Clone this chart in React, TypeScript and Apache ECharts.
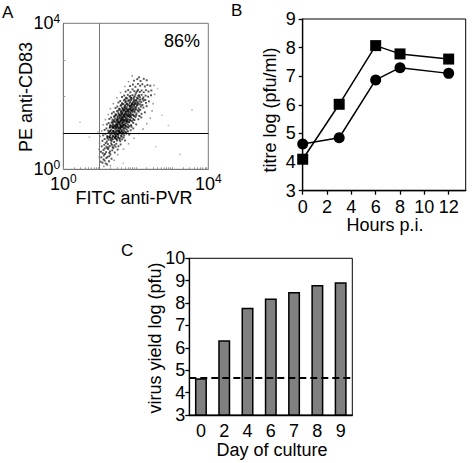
import React, { useEffect, useRef } from "react";
import * as echarts from "echarts";

// Panel A: flow cytometry events, in decades (log10 of fluorescence)
const cloudPoints: number[][] = [
  [1.08,0.18],[1.14,0.24],[1.21,0.13],[1.11,0.27],[1.26,0.22],[1.17,0.16],[1.03,0.21],
  [1.05,0.33],[1.12,0.38],[1.19,0.31],[1.27,0.36],[1.33,0.29],[1.15,0.42],[1.22,0.34],[1.09,0.44],[1.30,0.41],
  [1.04,0.48],[1.11,0.53],[1.18,0.47],[1.24,0.55],[1.29,0.49],[1.35,0.52],[1.42,0.46],[1.21,0.58],[1.14,0.57],[1.38,0.58],[1.27,0.45],[1.50,0.54],
  [1.06,0.63],[1.13,0.67],[1.19,0.62],[1.23,0.69],[1.28,0.64],[1.32,0.71],[1.36,0.61],[1.41,0.66],[1.46,0.70],[1.52,0.63],[1.58,0.68],[1.17,0.72],[1.34,0.67],[1.25,0.60],[1.44,0.62],
  [1.08,0.78],[1.14,0.83],[1.20,0.76],[1.25,0.81],[1.29,0.86],[1.33,0.77],[1.37,0.82],[1.40,0.75],[1.44,0.84],[1.48,0.79],[1.52,0.86],[1.57,0.77],[1.62,0.82],[1.70,0.79],[1.31,0.80],[1.42,0.88],[1.22,0.88],[1.55,0.81],
  [1.10,0.93],[1.16,0.97],[1.21,0.91],[1.26,0.99],[1.30,0.94],[1.34,1.00],[1.37,0.92],[1.41,0.97],[1.45,0.90],[1.48,0.99],[1.52,0.94],[1.55,1.01],[1.59,0.92],[1.63,0.97],[1.68,0.93],[1.74,0.98],[1.82,0.95],[1.39,1.02],[1.50,0.96],[1.28,0.90],[1.44,0.95],[1.61,1.02],
  [1.14,1.08],[1.19,1.12],[1.24,1.06],[1.28,1.14],[1.32,1.09],[1.35,1.16],[1.39,1.05],[1.42,1.11],[1.46,1.07],[1.49,1.15],[1.52,1.10],[1.55,1.04],[1.58,1.13],[1.61,1.08],[1.64,1.15],[1.67,1.06],[1.71,1.12],[1.75,1.09],[1.80,1.14],[1.86,1.07],[1.93,1.12],[1.37,1.13],[1.47,1.12],[1.57,1.10],[1.66,1.11],[1.44,1.16],[1.53,1.06],[1.30,1.05],
  [1.20,1.23],[1.25,1.27],[1.29,1.21],[1.33,1.28],[1.37,1.22],[1.40,1.30],[1.43,1.19],[1.47,1.26],[1.50,1.21],[1.53,1.29],[1.56,1.24],[1.59,1.18],[1.62,1.27],[1.65,1.22],[1.68,1.30],[1.71,1.20],[1.74,1.26],[1.78,1.23],[1.82,1.29],[1.87,1.21],[1.93,1.27],[2.01,1.23],[1.45,1.23],[1.55,1.27],[1.64,1.25],[1.70,1.24],[1.51,1.25],[1.36,1.26],[1.60,1.21],[1.76,1.30],
  [1.27,1.38],[1.32,1.42],[1.36,1.36],[1.40,1.44],[1.43,1.39],[1.47,1.34],[1.50,1.42],[1.53,1.37],[1.56,1.45],[1.59,1.35],[1.62,1.41],[1.65,1.38],[1.68,1.44],[1.71,1.36],[1.74,1.42],[1.77,1.39],[1.80,1.45],[1.84,1.35],[1.88,1.41],[1.93,1.38],[1.99,1.43],[2.07,1.37],[2.15,1.42],[1.58,1.40],[1.66,1.43],[1.72,1.40],[1.61,1.37],[1.49,1.38],[1.79,1.36],[1.55,1.41],[1.83,1.42],
  [1.34,1.53],[1.39,1.57],[1.44,1.51],[1.48,1.59],[1.52,1.54],[1.55,1.49],[1.59,1.57],[1.62,1.52],[1.65,1.60],[1.68,1.50],[1.71,1.56],[1.74,1.53],[1.77,1.59],[1.80,1.51],[1.83,1.57],[1.86,1.54],[1.89,1.60],[1.93,1.50],[1.97,1.56],[2.02,1.53],[2.08,1.58],[2.16,1.52],[2.25,1.56],[1.64,1.55],[1.73,1.58],[1.79,1.55],[1.85,1.51],[1.70,1.52],[1.91,1.57],[1.60,1.54],
  [1.44,1.68],[1.49,1.72],[1.54,1.66],[1.58,1.74],[1.62,1.69],[1.66,1.64],[1.70,1.72],[1.73,1.67],[1.77,1.75],[1.80,1.65],[1.83,1.71],[1.86,1.68],[1.89,1.74],[1.92,1.66],[1.95,1.72],[1.99,1.69],[2.03,1.75],[2.08,1.67],[2.14,1.72],[2.21,1.69],[2.30,1.73],[1.75,1.70],[1.84,1.73],[1.90,1.70],[1.97,1.65],[1.68,1.70],[2.01,1.71],
  [1.52,1.83],[1.57,1.87],[1.62,1.81],[1.67,1.89],[1.71,1.84],[1.75,1.79],[1.79,1.87],[1.83,1.82],[1.87,1.90],[1.90,1.80],[1.94,1.86],[1.98,1.83],[2.02,1.89],[2.06,1.81],[2.10,1.86],[2.15,1.84],[2.21,1.88],[2.28,1.82],[2.36,1.86],[1.85,1.85],[1.96,1.88],[2.04,1.84],[1.73,1.86],[1.92,1.83],
  [1.62,1.98],[1.68,2.02],[1.73,1.96],[1.78,2.04],[1.83,1.99],[1.87,1.95],[1.91,2.03],[1.95,1.97],[1.99,2.05],[2.03,1.96],[2.07,2.01],[2.11,1.98],[2.16,2.04],[2.21,1.97],[2.27,2.02],[2.34,1.99],[2.42,2.03],[1.97,2.00],[2.09,2.03],[1.85,2.01],
  [1.72,2.13],[1.79,2.17],[1.85,2.11],[1.91,2.19],[1.96,2.14],[2.01,2.10],[2.06,2.18],[2.11,2.12],[2.16,2.16],[2.22,2.11],[2.28,2.17],[2.35,2.13],[2.43,2.16],[2.04,2.14],
  [1.84,2.28],[1.92,2.32],[1.99,2.26],[2.06,2.34],[2.12,2.29],[2.18,2.33],[2.25,2.27],[2.32,2.31],[2.40,2.29],
  [1.95,2.43],[2.04,2.47],[2.13,2.42],[2.22,2.48],[2.30,2.44],[2.09,2.52]
];
// denser core of the population
const corePoints: number[][] = [
  [1.22,0.85],[1.27,0.89],[1.33,0.84],[1.38,0.90],[1.43,0.86],[1.47,0.83],[1.51,0.89],[1.56,0.85],[1.61,0.90],[1.66,0.87],[1.35,0.87],[1.45,0.91],
  [1.25,1.01],[1.29,1.04],[1.33,0.98],[1.37,1.05],[1.41,1.00],[1.45,1.03],[1.49,0.97],[1.53,1.04],[1.57,0.99],[1.61,1.05],[1.65,1.00],[1.69,1.03],[1.73,1.01],[1.78,1.04],[1.43,0.98],[1.55,1.02],[1.63,0.98],[1.50,1.05],
  [1.29,1.16],[1.33,1.19],[1.37,1.15],[1.41,1.20],[1.45,1.14],[1.49,1.18],[1.53,1.15],[1.57,1.20],[1.61,1.16],[1.65,1.19],[1.69,1.14],[1.73,1.18],[1.77,1.16],[1.82,1.19],[1.88,1.17],[1.48,1.21],[1.59,1.17],[1.67,1.21],[1.40,1.17],[1.55,1.13],
  [1.36,1.31],[1.40,1.34],[1.44,1.30],[1.48,1.35],[1.52,1.32],[1.56,1.29],[1.60,1.34],[1.64,1.30],[1.68,1.35],[1.72,1.31],[1.76,1.33],[1.80,1.30],[1.85,1.34],[1.90,1.32],[1.96,1.35],[1.58,1.32],[1.66,1.33],[1.74,1.35],[1.50,1.29],[1.62,1.36],
  [1.42,1.46],[1.46,1.49],[1.50,1.45],[1.54,1.50],[1.58,1.47],[1.62,1.44],[1.66,1.49],[1.70,1.45],[1.74,1.50],[1.78,1.46],[1.82,1.48],[1.86,1.44],[1.90,1.49],[1.95,1.46],[2.01,1.48],[2.10,1.46],[1.68,1.47],[1.76,1.48],[1.84,1.47],[1.60,1.50],
  [1.52,1.61],[1.56,1.64],[1.60,1.60],[1.64,1.65],[1.68,1.62],[1.72,1.59],[1.76,1.64],[1.80,1.60],[1.84,1.65],[1.88,1.61],[1.92,1.63],[1.96,1.60],[2.01,1.64],[2.06,1.61],[2.12,1.63],[1.78,1.62],[1.86,1.63],[1.70,1.66],
  [1.60,1.76],[1.65,1.79],[1.70,1.75],[1.75,1.80],[1.80,1.77],[1.85,1.74],[1.90,1.79],[1.95,1.76],[2.00,1.80],[2.05,1.77],[2.11,1.78],[2.18,1.76],[1.88,1.77],[1.97,1.79],
  [1.70,1.91],[1.76,1.94],[1.82,1.90],[1.88,1.95],[1.94,1.92],[2.00,1.89],[2.06,1.94],[2.12,1.91],[2.19,1.93],[2.26,1.90]
];
// fuzzy fringe of the population
const fringePoints: number[][] = [
  [0.98,0.55],[1.00,0.72],[1.02,0.90],[1.06,1.05],[1.10,1.22],[1.16,1.36],[1.24,1.50],[1.30,1.66],[1.38,1.80],[1.48,1.96],
  [1.58,2.10],[1.70,2.27],[1.80,2.40],[1.90,2.56],[2.50,2.30],[2.52,2.05],[2.48,1.80],[2.45,1.60],[2.40,1.40],[2.30,1.25],
  [2.20,1.10],[2.08,0.98],[1.95,0.85],[1.80,0.70],[1.66,0.55],[1.50,0.40],[1.40,0.25],[1.30,0.10],[1.12,0.08],[1.00,0.30]
];
const outlierPoints: number[][] = [
  [0.46,1.29],[3.55,1.62],[3.22,0.41],[2.72,1.48],[1.65,0.16],[0.95,1.02],[2.60,2.21],[0.72,0.88],[2.90,1.20],[0.98,0.35],[2.55,0.62]
];
const quadrantX = 1;
const quadrantY = 1;
const percentLabel = "86%";

// Panel B: titre time course
const hours = [0, 3, 6, 8, 12];
const titreSquares = [4.1, 6.02, 8.07, 7.78, 7.6];
const titreCircles = [4.63, 4.85, 6.87, 7.3, 7.1];
const hourTicks = [0, 2, 4, 6, 8, 10, 12];

// Panel C: virus yield by day of culture
const days = ["0", "2", "4", "6", "7", "8", "9"];
const yieldLog = [4.64, 6.34, 7.79, 8.2, 8.49, 8.81, 8.93];
const inputLevel = 4.65;

const FONT = "Liberation Sans, Arial, Helvetica, sans-serif";

export default function App() {
  const ref = useRef<HTMLDivElement>(null);
  useEffect(() => {
    if (!ref.current) return;
    const chart = echarts.init(ref.current, null, { renderer: "svg" });
    const supRich = {
      b: { fontSize: 18, fontFamily: FONT, color: "#000", lineHeight: 21 },
      s: { fontSize: 12, fontFamily: FONT, color: "#000", verticalAlign: "top", lineHeight: 12 },
    };
    const supFmt = (v: number) => `{b|10}{s|${v}}`;
    const minorLog: number[] = [];
    for (let d = 0; d < 4; d++) for (let k = 1; k < 10; k++) minorLog.push(d + Math.log10(k));
    minorLog.push(4);

    const dotStyle = { color: "rgba(0,0,0,0.85)" };
    const option: any = {
      animation: false,
      backgroundColor: "#fff",
      textStyle: { fontFamily: FONT, color: "#000" },
      grid: [
        { left: 63.3, top: 23.3, width: 145, height: 146, show: true, borderColor: "#777", borderWidth: 1 },
        { left: 302.7, top: 19, width: 163, height: 171.7, show: true, borderColor: "#000", borderWidth: 1 },
        { left: 189.3, top: 258.3, width: 163, height: 156.7, show: true, borderColor: "#000", borderWidth: 1 },
      ],
      xAxis: [
        {
          gridIndex: 0, type: "value", min: 0, max: 4,
          axisLine: { show: true, lineStyle: { color: "#777", width: 1 } },
          axisTick: { show: true, inside: true, length: 2, customValues: minorLog, lineStyle: { color: "#999" } },
          axisLabel: { customValues: [0, 4], formatter: supFmt, rich: supRich, margin: 4 },
          splitLine: { show: false },
        },
        {
          gridIndex: 1, type: "value", min: 0, max: 13.4,
          axisLine: { show: true, lineStyle: { color: "#000", width: 1.3 } },
          axisTick: { show: true, length: 4, customValues: hourTicks, lineStyle: { color: "#000", width: 1.3 } },
          axisLabel: { customValues: hourTicks, fontSize: 18, color: "#000", fontFamily: FONT, margin: 7 },
          splitLine: { show: false },
        },
        {
          gridIndex: 2, type: "category", data: days,
          axisLine: { show: true, lineStyle: { color: "#000", width: 1.3 } },
          axisTick: { show: false },
          axisLabel: { fontSize: 18, color: "#000", fontFamily: FONT, margin: 7 },
          splitLine: { show: false },
        },
      ],
      yAxis: [
        {
          gridIndex: 0, type: "value", min: 0, max: 4,
          axisLine: { show: true, lineStyle: { color: "#777", width: 1 } },
          axisTick: { show: true, inside: true, length: 2, customValues: [1, 2, 3], lineStyle: { color: "#999" } },
          axisLabel: { customValues: [0, 4], formatter: supFmt, rich: supRich, margin: 3 },
          splitLine: { show: false },
        },
        {
          gridIndex: 1, type: "value", min: 3, max: 9, interval: 1,
          axisLine: { show: true, lineStyle: { color: "#000", width: 1.3 } },
          axisTick: { show: true, length: 4, lineStyle: { color: "#000", width: 1.3 } },
          axisLabel: { fontSize: 18, color: "#000", fontFamily: FONT, margin: 7 },
          splitLine: { show: false },
        },
        {
          gridIndex: 2, type: "value", min: 3, max: 10, interval: 1,
          axisLine: { show: true, lineStyle: { color: "#000", width: 1.3 } },
          axisTick: { show: true, length: 4, lineStyle: { color: "#000", width: 1.3 } },
          axisLabel: { fontSize: 18, color: "#000", fontFamily: FONT, margin: 4 },
          splitLine: { show: false },
        },
      ],
      series: [
        {
          type: "scatter", xAxisIndex: 0, yAxisIndex: 0, data: outlierPoints,
          symbol: "rect", symbolSize: 1.6, itemStyle: { color: "rgba(0,0,0,0.3)" }, silent: true,
        },
        {
          type: "scatter", xAxisIndex: 0, yAxisIndex: 0, data: fringePoints,
          symbol: "rect", symbolSize: 1.6, itemStyle: { color: "rgba(0,0,0,0.5)" }, silent: true,
        },
        {
          type: "scatter", xAxisIndex: 0, yAxisIndex: 0, data: corePoints,
          symbol: "rect", symbolSize: 2.1, itemStyle: dotStyle, silent: true,
        },
        {
          type: "scatter", xAxisIndex: 0, yAxisIndex: 0, data: cloudPoints,
          symbol: "rect", symbolSize: 1.9, itemStyle: dotStyle, silent: true,
          markLine: {
            silent: true, symbol: "none", label: { show: false },
            data: [
              { xAxis: quadrantX, lineStyle: { color: "#777", width: 1, type: "solid" } },
              { yAxis: quadrantY, lineStyle: { color: "#000", width: 1.2, type: "solid" } },
            ],
          },
        },
        {
          type: "line", xAxisIndex: 1, yAxisIndex: 1,
          data: hours.map((h, i) => [h, titreSquares[i]]),
          symbol: "rect", symbolSize: 11,
          lineStyle: { color: "#000", width: 1.5 }, itemStyle: { color: "#000" },
        },
        {
          type: "line", xAxisIndex: 1, yAxisIndex: 1,
          data: hours.map((h, i) => [h, titreCircles[i]]),
          symbol: "circle", symbolSize: 11,
          lineStyle: { color: "#000", width: 1.5 }, itemStyle: { color: "#000" },
        },
        {
          type: "bar", xAxisIndex: 2, yAxisIndex: 2, data: yieldLog, barWidth: 12,
          itemStyle: { color: "#808080", borderColor: "#000", borderWidth: 1.5 },
          markLine: {
            silent: true, symbol: "none", label: { show: false },
            lineStyle: { color: "#000", width: 2, type: [7, 4] },
            data: [{ yAxis: inputLevel }],
          },
        },
      ],
      graphic: [
        { type: "text", x: 2, y: 4, style: { text: "A", font: `17px ${FONT}`, fill: "#000" } },
        { type: "text", x: 231, y: 2, style: { text: "B", font: `17px ${FONT}`, fill: "#000" } },
        { type: "text", x: 121, y: 242, style: { text: "C", font: `17px ${FONT}`, fill: "#000" } },
        { type: "text", x: 164, y: 32, style: { text: percentLabel, font: `18px ${FONT}`, fill: "#000" } },
        { type: "text", x: 134, y: 198, style: { text: "FITC anti-PVR", font: `18px ${FONT}`, fill: "#000", align: "center", verticalAlign: "middle", textAlign: "center", textVerticalAlign: "middle" } },
        { type: "text", x: 26, y: 97, rotation: Math.PI / 2, style: { text: "PE anti-CD83", font: `18px ${FONT}`, fill: "#000", align: "center", verticalAlign: "middle", textAlign: "center", textVerticalAlign: "middle" } },
        { type: "text", x: 270, y: 110, rotation: Math.PI / 2, style: { text: "titre log (pfu/ml)", font: `18px ${FONT}`, fill: "#000", align: "center", verticalAlign: "middle", textAlign: "center", textVerticalAlign: "middle" } },
        { type: "text", x: 385, y: 225, style: { text: "Hours p.i.", font: `18px ${FONT}`, fill: "#000", align: "center", verticalAlign: "middle", textAlign: "center", textVerticalAlign: "middle" } },
        { type: "text", x: 155, y: 338, rotation: Math.PI / 2, style: { text: "virus yield log (pfu)", font: `18px ${FONT}`, fill: "#000", align: "center", verticalAlign: "middle", textAlign: "center", textVerticalAlign: "middle" } },
        { type: "text", x: 272, y: 450, style: { text: "Day of culture", font: `18px ${FONT}`, fill: "#000", align: "center", verticalAlign: "middle", textAlign: "center", textVerticalAlign: "middle" } },
      ],
    };
    chart.setOption(option);
    return () => chart.dispose();
  }, []);
  return (
    <div
      ref={ref}
      style={{ position: "absolute", left: 0, top: 0, width: 475, height: 463, background: "#fff" }}
    />
  );
}
